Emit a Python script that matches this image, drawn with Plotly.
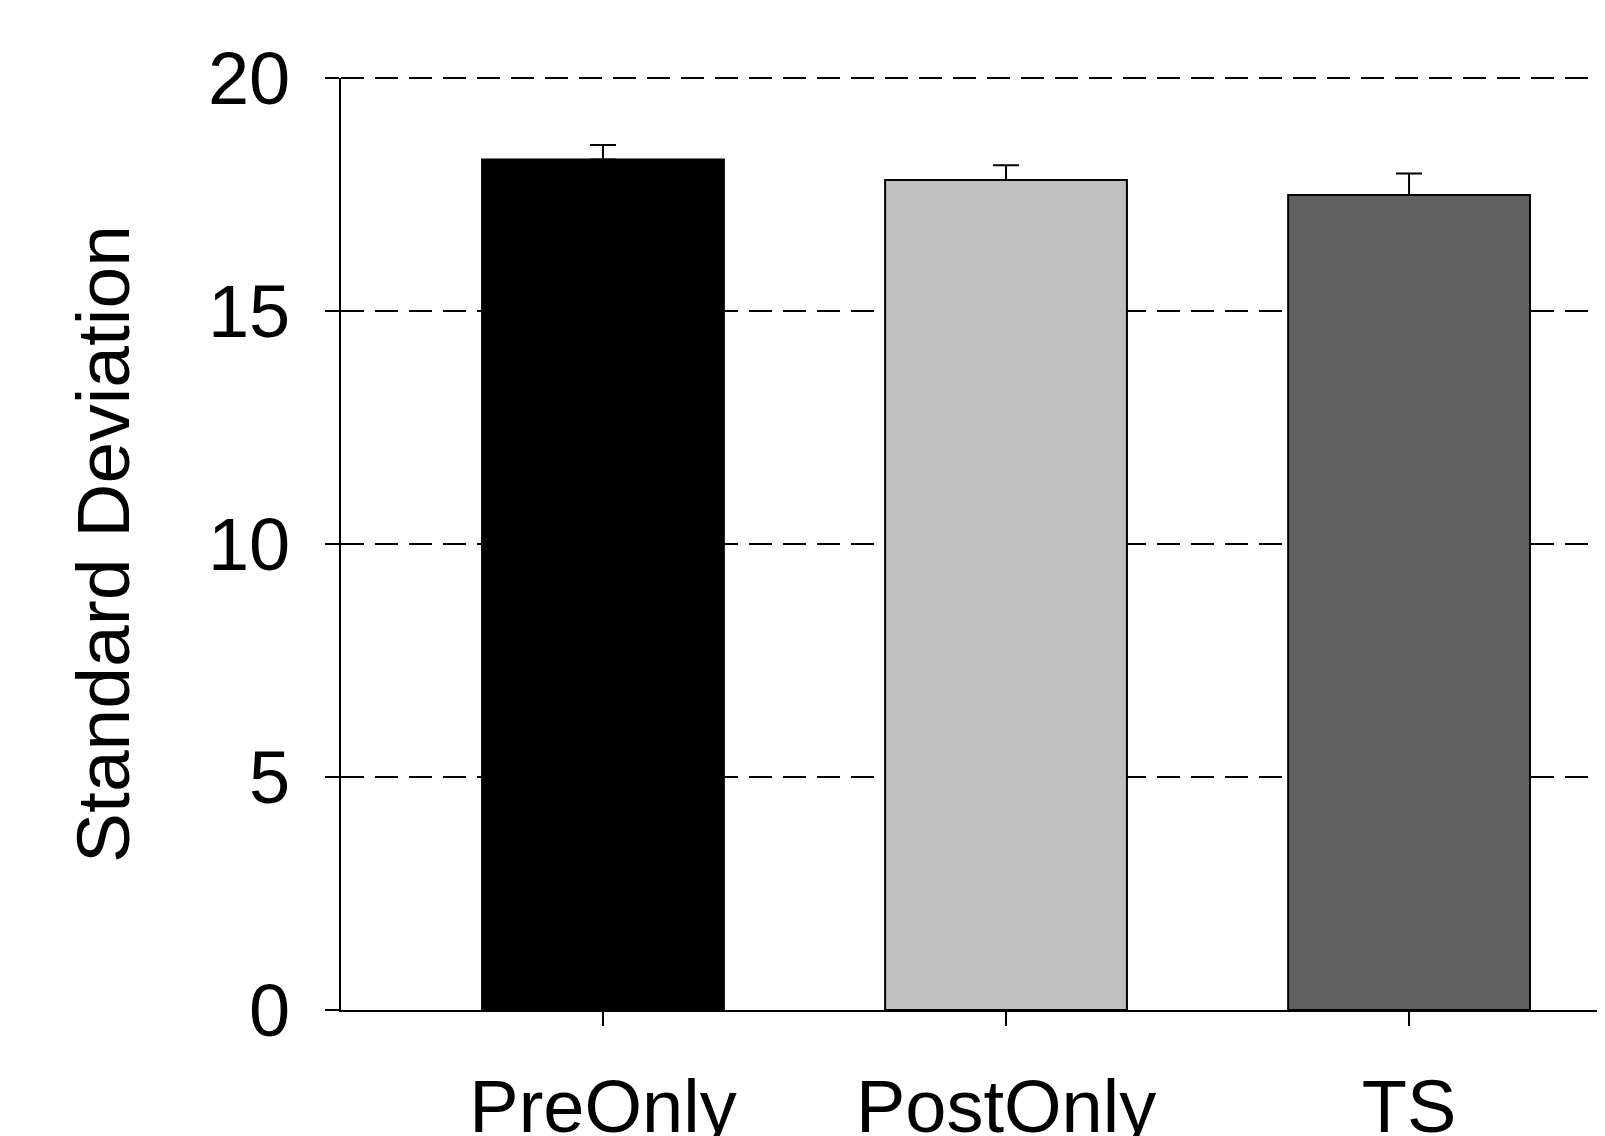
import plotly.graph_objects as go

categories = ["PreOnly", "PostOnly", "TS"]
values = [18.25, 17.81, 17.49]
errors = [0.31, 0.32, 0.46]
colors = ["#000000", "#c0c0c0", "#606060"]
y_ticks = [0, 5, 10, 15, 20]

FONT = "Arial, Liberation Sans, sans-serif"
TICK_SIZE = 74
TITLE_SIZE = 75

fig = go.Figure()
fig.add_trace(go.Bar(
    x=categories,
    y=values,
    width=0.6,
    marker=dict(color=colors, line=dict(color="black", width=2)),
    error_y=dict(type="data", array=errors, visible=True, color="black",
                 thickness=2, width=13, symmetric=False, arrayminus=[0, 0, 0]),
))

# top gridline at the upper range limit (plotly omits a gridline lying on the plot edge)
fig.add_shape(type="line", xref="paper", yref="paper", x0=0, x1=1,
              y0=1, y1=1, layer="below",
              line=dict(color="black", width=2, dash="23px,11px"))

fig.update_layout(
    width=1605, height=1136,
    margin=dict(l=333, r=0, t=70, b=134, pad=0),
    plot_bgcolor="white", paper_bgcolor="white",
    showlegend=False,
    font=dict(family=FONT, size=TICK_SIZE, color="black"),
    xaxis=dict(
        range=[-0.65, 2.506],
        automargin=False,
        showline=True, linecolor="black", linewidth=2,
        ticks="outside", ticklen=14, tickwidth=2, tickcolor="black",
        ticklabelstandoff=17,
        showgrid=False, zeroline=False,
        tickfont=dict(family=FONT, size=TICK_SIZE, color="black"),
    ),
    yaxis=dict(
        range=[y_ticks[0], y_ticks[-1]],
        automargin=False,
        tickvals=y_ticks,
        ticktext=[str(v) for v in y_ticks],
        showline=True, linecolor="black", linewidth=2,
        ticks="outside", ticklen=14, tickwidth=2, tickcolor="black",
        ticklabelstandoff=20,
        showgrid=True, gridcolor="black", gridwidth=2, griddash="23px,11px",
        zeroline=False,
        tickfont=dict(family=FONT, size=TICK_SIZE, color="black"),
        title=dict(text="Standard Deviation", font=dict(family=FONT, size=TITLE_SIZE, color="black"), standoff=54),
    ),
)

fig.write_html("out.html")
